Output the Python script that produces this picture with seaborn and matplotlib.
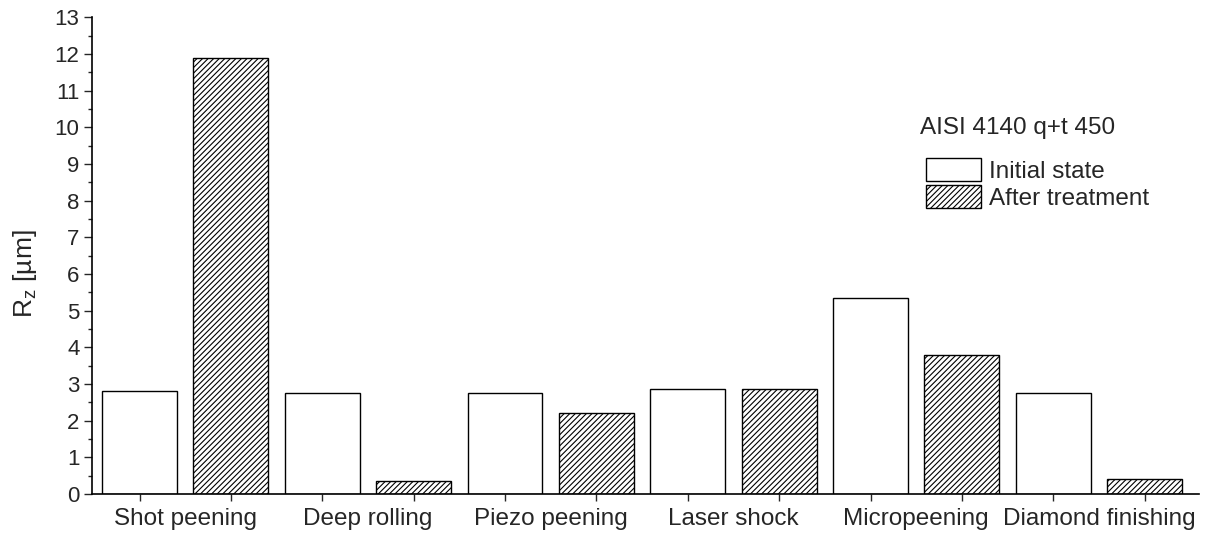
import matplotlib
matplotlib.use("Agg")
import matplotlib.pyplot as plt
import matplotlib.patches as mpatches
from matplotlib.ticker import MultipleLocator, FixedLocator
import seaborn as sns
import pandas as pd

# Surface roughness before and after each surface treatment
processes = ["Shot peening", "Deep rolling", "Piezo peening", "Laser shock",
             "Micropeening", "Diamond finishing"]
initial_state = [2.8, 2.75, 2.75, 2.85, 5.35, 2.75]
after_treatment = [11.9, 0.35, 2.2, 2.85, 3.8, 0.4]
states = ["Initial state", "After treatment"]

df = pd.DataFrame({
    "process": processes * 2,
    "state": [states[0]] * len(processes) + [states[1]] * len(processes),
    "Rz": initial_state + after_treatment,
})

sns.set_theme(style="ticks")
plt.rcParams["font.family"] = ["Liberation Sans", "DejaVu Sans"]
plt.rcParams["mathtext.fontset"] = "custom"
plt.rcParams["mathtext.rm"] = "Liberation Sans"
plt.rcParams["mathtext.it"] = "Liberation Sans"
plt.rcParams["hatch.linewidth"] = 0.8
plt.rcParams["hatch.color"] = "black"

fig = plt.figure(figsize=(12.17, 5.37), dpi=100)
ax = fig.add_axes([0.0756, 0.080, 0.910, 0.888])

sns.barplot(data=df, x="process", y="Rz", hue="state", order=processes,
            hue_order=states, palette=["white", "white"], width=1.0, gap=0.18,
            edgecolor="black", linewidth=1.0, ax=ax, legend=False)

n = len(processes)
for i, bar in enumerate(ax.patches[:2 * n]):
    if i >= n:
        bar.set_hatch("//////")

ax.set_xlim(-0.51, 5.55)
ax.set_ylim(0, 13)
ax.yaxis.set_major_locator(MultipleLocator(1))
ax.yaxis.set_minor_locator(MultipleLocator(0.5))

# Category labels sit between the bar pairs; small ticks mark every bar
ax.set_xticks(range(n))
ax.set_xticklabels(processes)
bar_centres = [i + d for i in range(n) for d in (-0.25, 0.25)]
ax.xaxis.set_minor_locator(FixedLocator(bar_centres))
ax.tick_params(axis="x", which="major", length=0, labelsize=17.5, pad=10)
ax.tick_params(axis="x", which="minor", length=5, width=1, direction="out")
ax.tick_params(axis="y", which="major", length=6, width=1, labelsize=16, pad=3)
ax.tick_params(axis="y", which="minor", length=3, width=1)

for side in ("top", "right"):
    ax.spines[side].set_visible(False)
for side in ("left", "bottom"):
    ax.spines[side].set_linewidth(1.2)
    ax.spines[side].set_color("black")

ax.set_xlabel("")
ax.set_ylabel(r"R$_\mathregular{z}$ [µm]", fontsize=19, labelpad=10)
ax.yaxis.set_label_coords(-0.048, 0.463)

ax.text(4.02, 9.97, "AISI 4140 q+t 450", fontsize=17.5, ha="left", va="center")

handles = [
    mpatches.Patch(facecolor="white", edgecolor="black", linewidth=1.0, label=states[0]),
    mpatches.Patch(facecolor="white", edgecolor="black", linewidth=1.0, hatch="//////",
                   label=states[1]),
]
ax.legend(handles=handles, loc="upper left", bbox_to_anchor=(0.753, 0.704),
          frameon=False, fontsize=17.5, handlelength=2.25, handleheight=1.05,
          handletextpad=0.33, labelspacing=0.1, borderaxespad=0, borderpad=0)

fig.savefig("out.png", dpi=100)
